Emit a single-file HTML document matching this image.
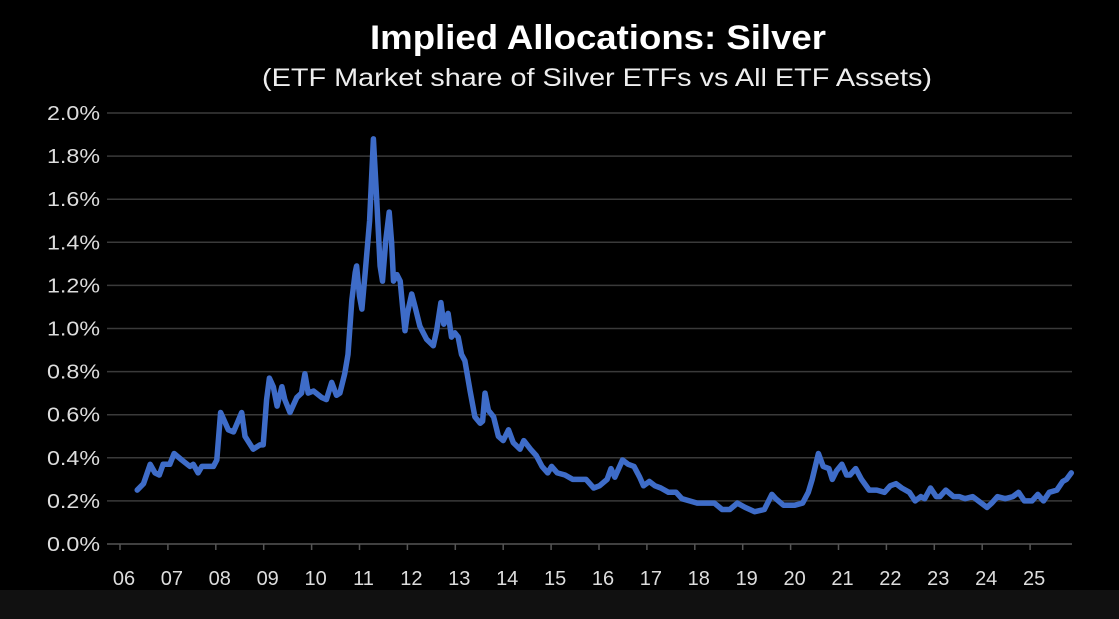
<!DOCTYPE html>
<html><head><meta charset="utf-8"><style>
html,body{margin:0;padding:0;background:#000;}
body{width:1119px;height:619px;overflow:hidden;position:relative;font-family:"Liberation Sans",Arial,sans-serif;}
#strip{position:absolute;left:0;top:590px;width:1119px;height:29px;background:#111;}
</style></head><body>
<svg id="chart" width="1119" height="590" style="position:absolute;left:0;top:0">
<text x="598" y="49" text-anchor="middle" fill="#fff" font-size="34" font-weight="bold" textLength="456" lengthAdjust="spacingAndGlyphs" font-family="Liberation Sans, Arial, sans-serif">Implied Allocations: Silver</text>
<text x="597" y="86" text-anchor="middle" fill="#eee" font-size="25" textLength="670" lengthAdjust="spacingAndGlyphs" font-family="Liberation Sans, Arial, sans-serif">(ETF Market share of Silver ETFs vs All ETF Assets)</text>
<g id="grid"></g>
<g id="axes"></g>
<g id="series"></g>
</svg>
<div id="strip"></div>
<script>
const yTicks=[0,0.2,0.4,0.6,0.8,1.0,1.2,1.4,1.6,1.8,2.0];
const yTickLabels=["0.0%","0.2%","0.4%","0.6%","0.8%","1.0%","1.2%","1.4%","1.6%","1.8%","2.0%"];
const xTickYears=[2006,2007,2008,2009,2010,2011,2012,2013,2014,2015,2016,2017,2018,2019,2020,2021,2022,2023,2024,2025];
const xTickLabels=["06","07","08","09","10","11","12","13","14","15","16","17","18","19","20","21","22","23","24","25"];
const years=[2006.36,2006.49,2006.63,2006.73,2006.82,2006.90,2007.04,2007.13,2007.29,2007.46,2007.53,2007.63,2007.71,2007.95,2008.02,2008.10,2008.26,2008.37,2008.54,2008.61,2008.78,2008.92,2008.99,2009.06,2009.12,2009.20,2009.28,2009.38,2009.44,2009.55,2009.69,2009.79,2009.86,2009.93,2010.04,2010.21,2010.31,2010.42,2010.52,2010.59,2010.69,2010.76,2010.84,2010.91,2010.94,2011.00,2011.05,2011.12,2011.21,2011.29,2011.36,2011.43,2011.48,2011.55,2011.62,2011.67,2011.71,2011.78,2011.85,2011.90,2011.95,2012.00,2012.09,2012.16,2012.26,2012.40,2012.54,2012.61,2012.70,2012.76,2012.85,2012.92,2012.99,2013.06,2013.13,2013.20,2013.31,2013.41,2013.52,2013.57,2013.62,2013.69,2013.80,2013.90,2014.00,2014.11,2014.21,2014.35,2014.43,2014.57,2014.69,2014.81,2014.93,2015.01,2015.13,2015.29,2015.45,2015.57,2015.73,2015.89,2016.01,2016.17,2016.25,2016.33,2016.49,2016.61,2016.73,2016.85,2016.93,2017.05,2017.17,2017.29,2017.45,2017.61,2017.73,2017.89,2018.05,2018.25,2018.41,2018.57,2018.73,2018.89,2019.05,2019.25,2019.45,2019.61,2019.69,2019.85,2020.09,2020.25,2020.37,2020.45,2020.58,2020.68,2020.80,2020.87,2020.96,2021.07,2021.17,2021.24,2021.36,2021.48,2021.64,2021.80,2021.96,2022.08,2022.20,2022.32,2022.48,2022.60,2022.72,2022.80,2022.92,2023.04,2023.12,2023.24,2023.40,2023.52,2023.64,2023.80,2023.92,2024.10,2024.20,2024.32,2024.48,2024.64,2024.76,2024.88,2025.04,2025.16,2025.28,2025.40,2025.56,2025.68,2025.76,2025.86];
const shares=[0.25,0.28,0.37,0.33,0.32,0.37,0.37,0.42,0.39,0.36,0.37,0.33,0.36,0.36,0.39,0.61,0.53,0.52,0.61,0.50,0.44,0.46,0.46,0.67,0.77,0.73,0.64,0.73,0.67,0.61,0.68,0.70,0.79,0.70,0.71,0.68,0.67,0.75,0.69,0.70,0.79,0.88,1.13,1.26,1.29,1.15,1.09,1.26,1.50,1.88,1.60,1.29,1.22,1.41,1.54,1.40,1.22,1.25,1.22,1.10,0.99,1.07,1.16,1.10,1.01,0.95,0.92,0.99,1.12,1.02,1.07,0.96,0.98,0.96,0.88,0.85,0.71,0.59,0.56,0.57,0.70,0.62,0.59,0.50,0.48,0.53,0.47,0.44,0.48,0.44,0.41,0.36,0.33,0.36,0.33,0.32,0.30,0.30,0.30,0.26,0.27,0.30,0.35,0.31,0.39,0.37,0.36,0.31,0.27,0.29,0.27,0.26,0.24,0.24,0.21,0.20,0.19,0.19,0.19,0.16,0.16,0.19,0.17,0.15,0.16,0.23,0.21,0.18,0.18,0.19,0.24,0.30,0.42,0.36,0.35,0.30,0.34,0.37,0.32,0.32,0.35,0.30,0.25,0.25,0.24,0.27,0.28,0.26,0.24,0.20,0.22,0.21,0.26,0.22,0.22,0.25,0.22,0.22,0.21,0.22,0.20,0.17,0.19,0.22,0.21,0.22,0.24,0.20,0.20,0.23,0.20,0.24,0.25,0.29,0.30,0.33];

const NS="http://www.w3.org/2000/svg";
const X0=107,X1=1072,Y0=544,Y1=113;
const xScale=yr=>120+(yr-2006)*47.9;
const yScale=v=>Y0-(v/2.0)*(Y0-Y1);
const grid=document.getElementById('grid'),axes=document.getElementById('axes'),series=document.getElementById('series');
function mk(tag,attrs,parent){const e=document.createElementNS(NS,tag);for(const k in attrs)e.setAttribute(k,attrs[k]);parent.appendChild(e);return e;}
yTicks.forEach((v,i)=>{
  const y=yScale(v);
  const ln=mk('line',{x1:X0,x2:X1,y1:y,y2:y,stroke:i===0?'#555':'#3a3a3a','stroke-width':1.5},grid);
  
  
  const t=mk('text',{x:100,y:y+7,'text-anchor':'end',fill:'#ddd','font-size':20,textLength:53,lengthAdjust:'spacingAndGlyphs'},axes);
  t.textContent=yTickLabels[i];
  
  
});
xTickYears.forEach((yr,i)=>{
  const x=xScale(yr);
  const tk=mk('line',{x1:x,x2:x,y1:Y0,y2:Y0+6,stroke:'#555','stroke-width':1.5},axes);
  
  
  const t=mk('text',{x:x+4,y:585,'text-anchor':'middle',fill:'#ddd','font-size':20},axes);
  t.textContent=xTickLabels[i];
  
  
});
const d=years.map((yr,i)=>(i?'L':'M')+xScale(yr).toFixed(1)+','+yScale(shares[i]).toFixed(1)).join(' ');
const p=mk('path',{d:d,fill:'none',stroke:'#3e6cc8','stroke-width':5.5,'stroke-linejoin':'round','stroke-linecap':'round'},series);


</script>
</body></html>
